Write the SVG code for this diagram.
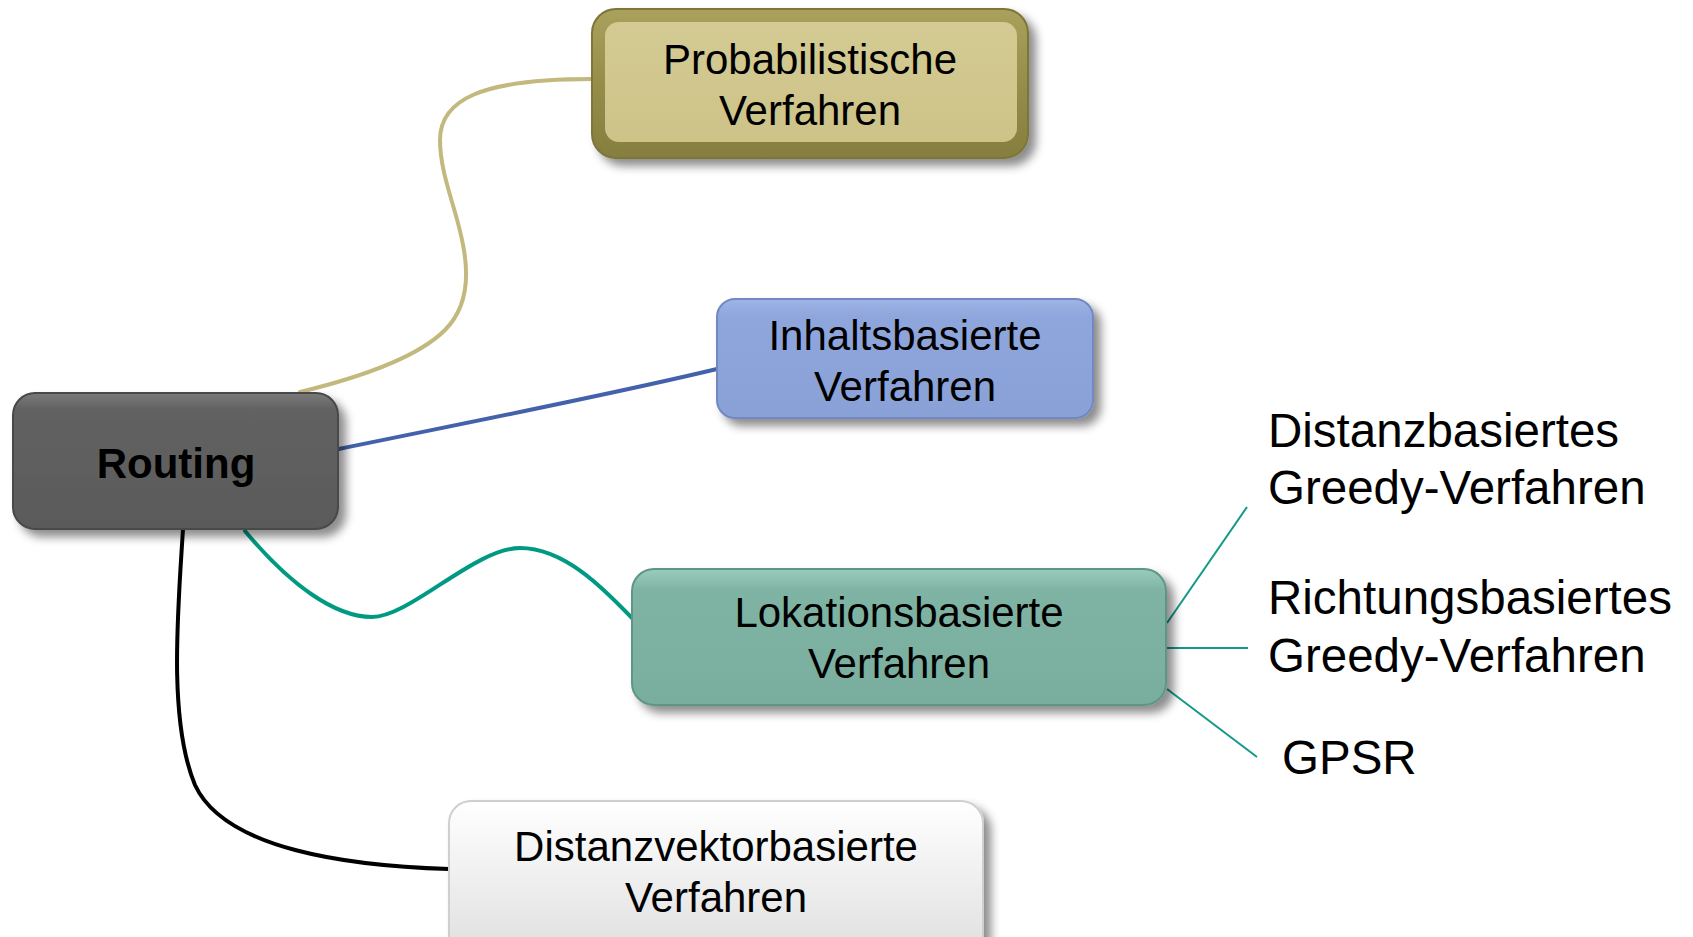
<svg xmlns="http://www.w3.org/2000/svg" width="1693" height="937" viewBox="0 0 1693 937">
<defs>
<style>
.lbl{font-family:"Liberation Sans",Arial,sans-serif;font-size:42px;fill:#000;text-anchor:middle}
.side{font-family:"Liberation Sans",Arial,sans-serif;font-size:47.5px;fill:#000}
.conn{fill:none;stroke-linecap:round}
</style>
<filter id="sh" x="-10%" y="-20%" width="125%" height="145%">
<feDropShadow dx="7" dy="7" stdDeviation="5" flood-color="#000" flood-opacity="0.45"/>
</filter>
<linearGradient id="gProb" x1="0" y1="0" x2="0" y2="1">
<stop offset="0" stop-color="#a9a15c"/><stop offset="0.5" stop-color="#958d4a"/><stop offset="1" stop-color="#857e3e"/>
</linearGradient>
<linearGradient id="gProbIn" x1="0" y1="0" x2="0" y2="1">
<stop offset="0" stop-color="#d4cb94"/><stop offset="1" stop-color="#cdc388"/>
</linearGradient>
<linearGradient id="gInh" x1="0" y1="0" x2="0" y2="1">
<stop offset="0" stop-color="#9fb4e6"/><stop offset="0.15" stop-color="#8fa6dc"/><stop offset="1" stop-color="#8aa1d8"/>
</linearGradient>
<linearGradient id="gRout" x1="0" y1="0" x2="0" y2="1">
<stop offset="0" stop-color="#7a7a7a"/><stop offset="0.12" stop-color="#626262"/><stop offset="1" stop-color="#5a5a5a"/>
</linearGradient>
<linearGradient id="gLok" x1="0" y1="0" x2="0" y2="1">
<stop offset="0" stop-color="#9accbd"/><stop offset="0.15" stop-color="#7fb4a4"/><stop offset="1" stop-color="#79ae9e"/>
</linearGradient>
<linearGradient id="gDist" x1="0" y1="0" x2="0" y2="1">
<stop offset="0" stop-color="#ffffff"/><stop offset="1" stop-color="#dedede"/>
</linearGradient>
</defs>
<rect width="1693" height="937" fill="#fff"/>
<g id="connectors">
<path class="conn" d="M300,392 C370,375 420,355 445,330 C470,305 468,270 463,245 C457,210 440,175 440,140 C440,100 480,79 592,79" stroke="#c3b97f" stroke-width="4"/>
<path class="conn" d="M339,449 C450,426 600,397 717,369" stroke="#4462ab" stroke-width="4"/>
<path class="conn" d="M245,531 C290,585 335,617 372,617 C410,617 475,548 520,548 C565,548 605,590 632,618" stroke="#009a82" stroke-width="4"/>
<path class="conn" d="M183,529 C178,610 168,720 195,785 C225,850 350,866 449,869" stroke="#000" stroke-width="4"/>
<line x1="1167" y1="623" x2="1247" y2="507" stroke="#13998a" stroke-width="2"/>
<line x1="1167" y1="648" x2="1248" y2="648" stroke="#13998a" stroke-width="2"/>
<line x1="1167" y1="689" x2="1257" y2="757" stroke="#13998a" stroke-width="2"/>
</g>
<g id="node-prob">
<rect x="592" y="9" width="436" height="149" rx="24" fill="url(#gProb)" stroke="#7d7638" stroke-width="2" filter="url(#sh)"/>
<rect x="605" y="22" width="412" height="120" rx="14" fill="url(#gProbIn)"/>
<text class="lbl" x="810" y="74">Probabilistische</text>
<text class="lbl" x="810" y="125">Verfahren</text>
</g>
<g id="node-inhalt">
<rect x="717" y="299" width="376" height="119" rx="18" fill="url(#gInh)" stroke="#7188c2" stroke-width="2" filter="url(#sh)"/>
<text class="lbl" x="905" y="350">Inhaltsbasierte</text>
<text class="lbl" x="905" y="401">Verfahren</text>
</g>
<g id="node-routing">
<rect x="13" y="393" width="325" height="136" rx="22" fill="url(#gRout)" stroke="#484848" stroke-width="2" filter="url(#sh)"/>
<text class="lbl" x="176" y="478" font-weight="bold">Routing</text>
</g>
<g id="node-lok">
<rect x="632" y="569" width="534" height="136" rx="22" fill="url(#gLok)" stroke="#5f9585" stroke-width="2" filter="url(#sh)"/>
<text class="lbl" x="899" y="627">Lokationsbasierte</text>
<text class="lbl" x="899" y="678">Verfahren</text>
</g>
<g id="node-distvek">
<rect x="449" y="801" width="534" height="160" rx="22" fill="url(#gDist)" stroke="#cfcfcf" stroke-width="2" filter="url(#sh)"/>
<text class="lbl" x="716" y="861">Distanzvektorbasierte</text>
<text class="lbl" x="716" y="912">Verfahren</text>
</g>
<g id="label-distgreedy">
<text class="side" x="1268" y="447">Distanzbasiertes</text>
<text class="side" x="1268" y="504">Greedy-Verfahren</text>
</g>
<g id="label-richtgreedy">
<text class="side" x="1268" y="614">Richtungsbasiertes</text>
<text class="side" x="1268" y="672">Greedy-Verfahren</text>
</g>
<g id="label-gpsr">
<text class="side" x="1282" y="774">GPSR</text>
</g>
</svg>
